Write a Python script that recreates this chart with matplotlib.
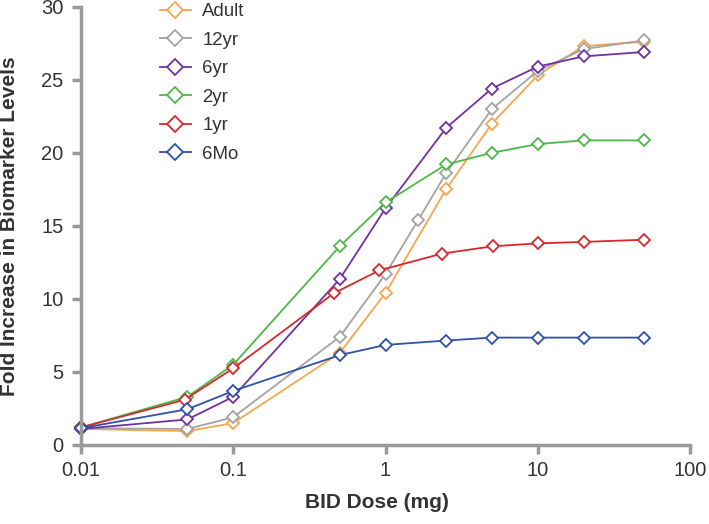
import matplotlib
matplotlib.use("Agg")
import matplotlib.pyplot as plt
from matplotlib.lines import Line2D

plt.rcParams['font.family'] = ['Liberation Sans', 'DejaVu Sans']

# ---- data ----
labels = ["Adult", "12yr", "6yr", "2yr", "1yr", "6Mo"]
colors = ["#F4A650", "#A3A3A3", "#7131A1", "#4DB848", "#D7282E", "#2E52A8"]

dose_adult = [0.01, 0.05, 0.1, 0.5, 1, 2.5, 5, 10, 20, 50]
fold_adult = [1.1, 0.95, 1.5, 6.3, 10.4, 17.5, 22.0, 25.3, 27.3, 27.6]

dose_12yr = [0.01, 0.05, 0.1, 0.5, 1, 1.64, 2.5, 5, 10, 20, 50]
fold_12yr = [1.15, 1.1, 1.9, 7.4, 11.7, 15.4, 18.6, 23.0, 25.6, 27.1, 27.7]

dose_6yr = [0.01, 0.05, 0.1, 0.5, 1, 2.5, 5, 10, 20, 50]
fold_6yr = [1.1, 1.75, 3.3, 11.35, 16.2, 21.7, 24.4, 25.9, 26.6, 26.9]

dose_2yr = [0.01, 0.05, 0.1, 0.5, 1, 2.5, 5, 10, 20, 50]
fold_2yr = [1.2, 3.3, 5.5, 13.6, 16.6, 19.2, 20.0, 20.6, 20.85, 20.85]

dose_1yr = [0.01, 0.048, 0.1, 0.46, 0.91, 2.35, 5.05, 10, 20, 50]
fold_1yr = [1.2, 3.1, 5.25, 10.4, 11.95, 13.1, 13.6, 13.8, 13.9, 14.05]

dose_6mo = [0.01, 0.05, 0.1, 0.5, 1, 2.5, 5, 10, 20, 50]
fold_6mo = [1.15, 2.45, 3.7, 6.15, 6.85, 7.15, 7.35, 7.35, 7.35, 7.35]

xticks = [0.01, 0.1, 1, 10, 100]
xticklabels = ["0.01", "0.1", "1", "10", "100"]
yticks = [0, 5, 10, 15, 20, 25, 30]

doses = [dose_adult, dose_12yr, dose_6yr, dose_2yr, dose_1yr, dose_6mo]
folds = [fold_adult, fold_12yr, fold_6yr, fold_2yr, fold_1yr, fold_6mo]

# ---- figure ----
W, H = 709, 524
AX_L, AX_R, AX_T, AX_B = 81, 690, 6.7, 445
fig = plt.figure(figsize=(W/100, H/100), dpi=100)
ax = fig.add_axes([AX_L/W, 1-AX_B/H, (AX_R-AX_L)/W, (AX_B-AX_T)/H])

for x, y, c, lab in zip(doses, folds, colors, labels):
    ax.plot(x, y, color=c, lw=1.3, marker='D', ms=6.6, mfc='white',
            mec=c, mew=1.3, label=lab, clip_on=False)

ax.set_xscale('log')
ax.set_xlim(0.01, 100)
ax.set_ylim(0, 30)
ax.set_xticks(xticks)
ax.set_xticklabels(xticklabels)
ax.minorticks_off()
ax.set_yticks(yticks)

spine_c = "#9A9A9A"
for s in ['top', 'right']:
    ax.spines[s].set_visible(False)
for s in ['left', 'bottom']:
    ax.spines[s].set_color(spine_c)
    ax.spines[s].set_linewidth(2.5)
ax.tick_params(axis='both', which='major', color=spine_c, width=2.5, length=6.5,
               labelsize=14.5, labelcolor='#333333')
ax.tick_params(axis='x', pad=5.0)
ax.tick_params(axis='y', pad=6.0)

ax.set_xlabel("BID Dose (mg)", fontsize=15, fontweight='bold', color='#333333')
ax.xaxis.set_label_coords((377-AX_L)/(AX_R-AX_L), -(503-AX_B)/(AX_B-AX_T))
ax.xaxis.label.set_va('center')
ax.set_ylabel("Fold Increase in Biomarker Levels", fontsize=15, fontweight='bold',
              color='#333333')
ax.yaxis.set_label_coords(-(AX_L-10)/(AX_R-AX_L), 0.5)
ax.yaxis.label.set_va('center')

handles = [Line2D([0], [0], color=c, lw=1.3, marker='D', ms=8, mfc='white', mec=c, mew=1.3)
           for c in colors]
leg = ax.legend(handles, labels, loc='upper left', bbox_to_anchor=(160/W, 1 - 3/H),
                bbox_transform=fig.transFigure, frameon=False, fontsize=13.4,
                borderpad=0, borderaxespad=0, handlelength=1.65, handletextpad=0.62,
                labelspacing=0.62)
for t in leg.get_texts():
    t.set_color('#333333')

fig.savefig("out.png", dpi=100)
